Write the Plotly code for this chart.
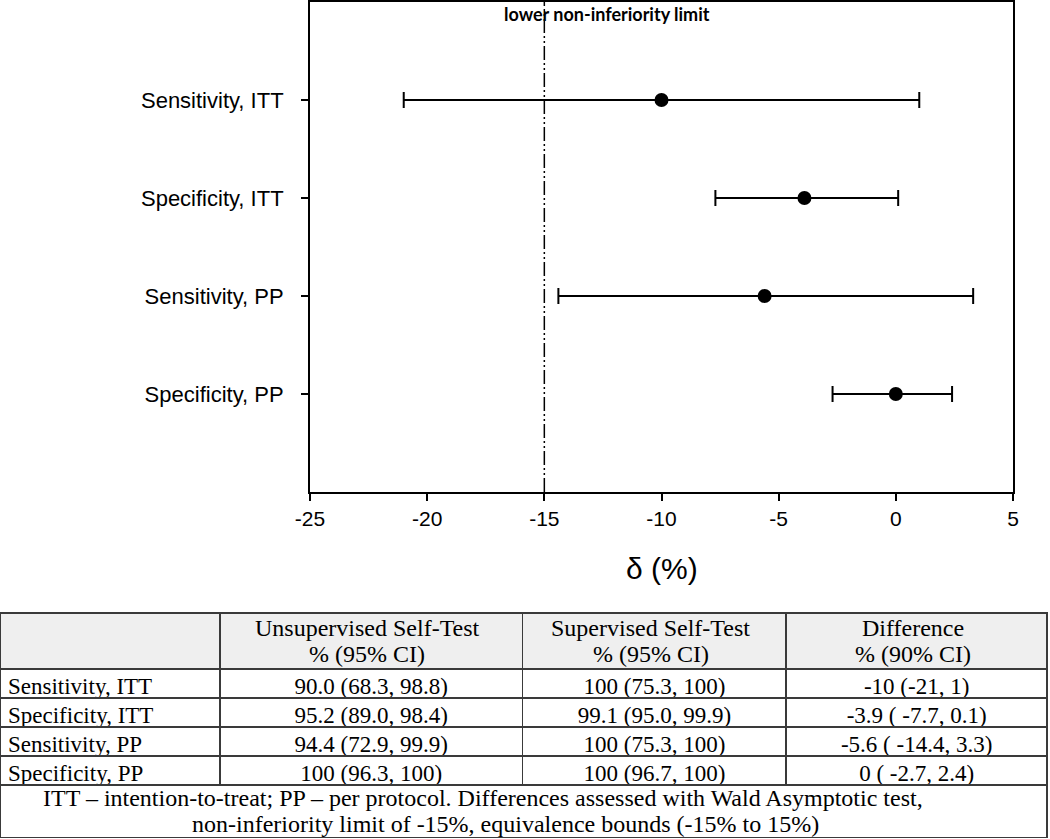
import plotly.graph_objects as go

# ---- data ----
categories = ["Sensitivity, ITT", "Specificity, ITT", "Sensitivity, PP", "Specificity, PP"]
diff = [-10, -3.9, -5.6, 0]
ci_low = [-21, -7.7, -14.4, -2.7]
ci_high = [1, 0.1, 3.3, 2.4]
limit = -15
x_ticks = [-25, -20, -15, -10, -5, 0, 5]
x_ticktext = ["-25", "-20", "-15", "-10", "-5", "0", "5"]

unsup = ["90.0 (68.3, 98.8)", "95.2 (89.0, 98.4)", "94.4 (72.9, 99.9)", "100 (96.3, 100)"]
sup = ["100 (75.3, 100)", "99.1 (95.0, 99.9)", "100 (75.3, 100)", "100 (96.7, 100)"]
diff_txt = ["-10 (-21, 1)", "-3.9 ( -7.7, 0.1)", "-5.6 ( -14.4, 3.3)", "0 ( -2.7, 2.4)"]
header_line1 = ["", "Unsupervised Self-Test", "Supervised Self-Test", "Difference"]
header_line2 = ["", "% (95% CI)", "% (95% CI)", "% (90% CI)"]
footnote_lines = ["ITT – intention-to-treat; PP – per protocol. Differences assessed with Wald Asymptotic test,",
                  "non-inferiority limit of -15%, equivalence bounds (-15% to 15%)"]

W, H = 1050, 839
err_plus = [h - d for h, d in zip(ci_high, diff)]
err_minus = [d - l for d, l in zip(diff, ci_low)]

fig = go.Figure()
fig.add_trace(go.Scatter(
    x=diff, y=categories, mode="markers",
    marker=dict(color="black", size=14),
    error_x=dict(type="data", symmetric=False, array=err_plus, arrayminus=err_minus,
                 color="black", thickness=2, width=8),
    showlegend=False, hoverinfo="skip",
))

fig.add_shape(type="line", xref="x", yref="y domain", x0=limit, x1=limit, y0=0, y1=1,
              line=dict(color="black", width=1.5, dash="14px,3px,2px,3px,2px,3px"))
fig.add_annotation(x=-16.8, xref="x", y=1 - 14 / H, yref="paper", xanchor="left", yanchor="middle",
                   text="<b>lower non-inferiority limit</b>", showarrow=False,
                   font=dict(family="Lato, Open Sans, sans-serif", size=18, color="black"))
fig.add_annotation(x=662 / W, xref="paper", y=1 - 568 / H, yref="paper", xanchor="center",
                   yanchor="middle", text="δ (%)", showarrow=False,
                   font=dict(family="Liberation Sans, Arial", size=30, color="black"))

# ---- table ----
serif = "Liberation Serif, Times New Roman, serif"
table_font = dict(family=serif, size=23, color="black")
head_font = dict(family=serif, size=24, color="black")
col_w = [220, 303, 264, 261]
tab_x = [0, 0.998]
line_style = dict(color="#3a3a3a", width=1.5)
fig.add_trace(go.Table(
    domain=dict(x=tab_x, y=[1 - 787 / H, 1 - 613 / H]),
    columnwidth=col_w,
    header=dict(values=["", "", "", ""], fill_color="#efefef", line=line_style, height=56),
    cells=dict(values=[categories, unsup, sup, diff_txt], fill_color="white", line=line_style,
               align=["left", "center", "center", "center"], font=table_font, height=29),
))
# header text, two lines per column, centred on each column
total_w = sum(col_w)
left = 0.0
for i, w in enumerate(col_w):
    cx = tab_x[0] + (tab_x[1] - tab_x[0]) * (left + w / 2) / total_w
    left += w
    for txt, yy in ((header_line1[i], 628), (header_line2[i], 654)):
        if txt:
            fig.add_annotation(x=cx - 4 / W, xref="paper", y=1 - yy / H, yref="paper",
                               xanchor="center", yanchor="middle", text=txt, showarrow=False,
                               font=head_font)
# footnote row spanning the whole table
fig.add_trace(go.Table(
    domain=dict(x=tab_x, y=[0, 1 - 785 / H]),
    header=dict(values=[""], fill_color="white", line=line_style, height=53),
    cells=dict(values=[[]], line=dict(color="white", width=0), fill_color="white", height=1),
))
for txt, cx, yy in ((footnote_lines[0], 483, 798), (footnote_lines[1], 505, 824)):
    fig.add_annotation(x=cx / W, xref="paper", y=1 - yy / H, yref="paper",
                       xanchor="center", yanchor="middle", text=txt, showarrow=False,
                       font=head_font)

fig.update_layout(
    width=W, height=H, margin=dict(l=0, r=0, t=0, b=0),
    paper_bgcolor="white", plot_bgcolor="white",
    xaxis=dict(domain=[310 / W, 1013 / W], range=[-25, 5], tickvals=x_ticks, ticktext=x_ticktext,
               showgrid=False, zeroline=False, showline=True, linecolor="black", linewidth=2,
               mirror=True, ticks="outside", ticklen=7, tickwidth=1.5, tickcolor="black",
               tickfont=dict(family="Liberation Sans, Arial", size=21, color="black"),
               automargin=False),
    yaxis=dict(domain=[1 - 492 / H, 1 - 2 / H], range=[4, -1], type="category",
               categoryorder="array", categoryarray=categories,
               showgrid=False, zeroline=False, showline=True, linecolor="black", linewidth=2,
               mirror=True, ticks="outside", ticklen=7, tickwidth=1.5, tickcolor="black",
               ticklabelstandoff=13,
               tickfont=dict(family="Liberation Sans, Arial", size=22, color="black"),
               automargin=False),
)

fig.write_html("out.html", config={"displayModeBar": False},
               post_script="document.body.style.margin='0';document.body.style.overflow='hidden';")
